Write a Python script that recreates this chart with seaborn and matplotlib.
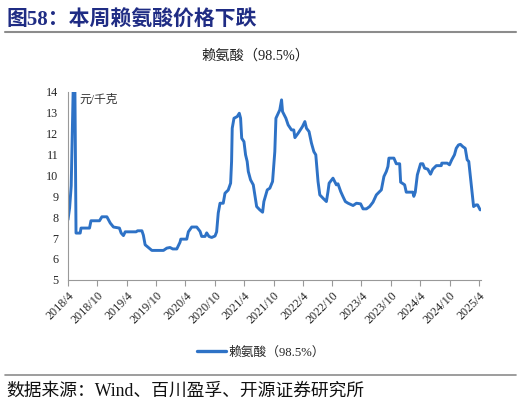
import numpy as np
import pandas as pd
import matplotlib
matplotlib.use("Agg")
import matplotlib.pyplot as plt
import matplotlib.dates as mdates
from matplotlib.lines import Line2D
import seaborn as sns

# 赖氨酸（98.5%）价格，元/千克
dates = [
    "2018-04-01", "2018-04-11", "2018-04-21", "2018-05-07", "2018-05-14", "2018-05-21",
    "2018-06-16", "2018-06-21", "2018-08-13", "2018-08-22", "2018-10-14", "2018-10-29",
    "2018-11-29", "2018-12-20", "2019-01-09", "2019-02-15", "2019-02-26", "2019-03-12",
    "2019-03-23", "2019-05-30", "2019-06-08", "2019-07-05", "2019-07-14", "2019-07-25",
    "2019-08-14", "2019-09-05", "2019-11-16", "2019-12-07", "2019-12-27", "2020-01-13",
    "2020-02-07", "2020-02-27", "2020-03-03", "2020-04-09", "2020-04-19", "2020-05-10",
    "2020-06-10", "2020-07-01", "2020-07-11", "2020-08-01", "2020-08-11", "2020-08-25",
    "2020-09-11", "2020-10-02", "2020-10-12", "2020-10-22", "2020-11-02", "2020-11-22",
    "2020-12-03", "2020-12-23", "2021-01-07", "2021-01-13", "2021-01-17", "2021-01-28",
    "2021-02-17", "2021-03-02", "2021-03-10", "2021-03-17", "2021-03-31", "2021-04-10",
    "2021-04-20", "2021-04-27", "2021-05-11", "2021-05-28", "2021-06-07", "2021-06-18",
    "2021-07-08", "2021-07-25", "2021-08-02", "2021-08-23", "2021-09-08", "2021-09-25",
    "2021-10-09", "2021-10-16", "2021-10-30", "2021-11-09", "2021-11-20", "2021-11-26",
    "2021-12-17", "2021-12-31", "2022-01-21", "2022-02-04", "2022-02-11", "2022-03-03",
    "2022-03-30", "2022-04-14", "2022-04-24", "2022-05-10", "2022-05-25", "2022-06-09",
    "2022-06-21", "2022-07-05", "2022-07-16", "2022-08-05", "2022-08-26", "2022-09-05",
    "2022-09-12", "2022-10-06", "2022-10-27", "2022-11-06", "2022-11-23", "2022-12-07",
    "2022-12-22", "2023-01-08", "2023-02-08", "2023-03-01", "2023-03-27", "2023-04-11",
    "2023-05-02", "2023-05-22", "2023-06-12", "2023-07-03", "2023-08-03", "2023-08-19",
    "2023-09-03", "2023-09-13", "2023-09-19", "2023-10-20", "2023-11-04", "2023-11-25",
    "2023-12-01", "2023-12-26", "2024-01-05", "2024-02-15", "2024-02-21", "2024-03-01",
    "2024-03-14", "2024-04-03", "2024-04-17", "2024-04-28", "2024-05-18", "2024-06-04",
    "2024-06-18", "2024-07-10", "2024-08-10", "2024-08-13", "2024-09-16", "2024-09-30",
    "2024-10-14", "2024-10-31", "2024-11-11", "2024-11-25", "2024-12-07", "2024-12-22",
    "2025-01-06", "2025-01-18", "2025-01-28", "2025-02-08", "2025-02-16", "2025-02-27",
    "2025-03-14", "2025-03-24", "2025-04-09",
]
prices = [
    7.88, 8.44, 9.5, 15.5, 14.2, 7.24,
    7.24, 7.48, 7.48, 7.83, 7.83, 8.02,
    8.02, 7.72, 7.53, 7.48, 7.24, 7.12,
    7.3, 7.3, 7.35, 7.35, 7.14, 6.68,
    6.55, 6.41, 6.41, 6.52, 6.55, 6.48,
    6.48, 6.8, 6.95, 6.95, 7.3, 7.53,
    7.53, 7.32, 7.08, 7.08, 7.25, 7.08,
    7.03, 7.1, 7.3, 8.2, 8.67, 8.67,
    9.15, 9.3, 9.63, 10.67, 12.26, 12.74,
    12.82, 12.98, 12.74, 11.78, 11.62, 10.99,
    10.67, 10.19, 9.79, 9.55, 9.07, 8.51,
    8.35, 8.24, 8.75, 9.31, 9.39, 9.71,
    11.14, 12.74, 12.98, 13.14, 13.62, 13.06,
    12.74, 12.42, 12.18, 12.18, 11.81, 12.02,
    12.34, 12.58, 12.26, 12.1, 11.55, 11.14,
    10.99, 9.71, 9.07, 8.91, 8.75, 9.23,
    9.63, 9.87, 9.55, 9.6, 9.23, 8.99,
    8.75, 8.67, 8.56, 8.67, 8.64, 8.4,
    8.4, 8.51, 8.72, 9.07, 9.31, 9.95,
    10.19, 10.43, 10.83, 10.83, 10.56, 10.56,
    9.68, 9.55, 9.2, 9.2, 9.0, 9.2,
    10.03, 10.56, 10.56, 10.35, 10.3, 10.06,
    10.3, 10.47, 10.47, 10.59, 10.59, 10.51,
    10.75, 10.99, 11.3, 11.46, 11.49, 11.38,
    11.3, 10.75, 10.67, 9.87, 9.31, 8.51,
    8.59, 8.59, 8.35,
]
tick_dates = ["2018-04-01", "2018-10-01", "2019-04-01", "2019-10-01", "2020-04-01",
              "2020-10-01", "2021-04-01", "2021-10-01", "2022-04-01", "2022-10-01",
              "2023-04-01", "2023-10-01", "2024-04-01", "2024-10-01", "2025-04-01"]
tick_labels = ["2018/4", "2018/10", "2019/4", "2019/10", "2020/4", "2020/10", "2021/4",
               "2021/10", "2022/4", "2022/10", "2023/4", "2023/10", "2024/4", "2024/10",
               "2025/4"]
series_name = "赖氨酸（98.5%）"

sns.set_style("white")
plt.rcParams["font.family"] = ["Liberation Serif", "Noto Sans CJK SC", "DejaVu Sans"]

df = pd.DataFrame({"date": pd.to_datetime(dates), "price": prices, "series": series_name})

fig = plt.figure(figsize=(5.21, 4.05), dpi=100)
ax = fig.add_axes([0.1305, 0.309, 0.793, 0.464])

sns.lineplot(data=df, x="date", y="price", hue="series", palette=["#2E72C6"],
             linewidth=2.1, ax=ax)

ax.set_ylim(5, 14)
ax.set_yticks(range(5, 15))
ax.set_xlim(pd.Timestamp("2018-04-01"), pd.Timestamp("2025-04-15"))
ticks = pd.to_datetime(tick_dates)
ax.set_xticks(ticks)
ax.set_xticklabels(tick_labels, rotation=45, ha="right", rotation_mode="anchor")
ax.tick_params(axis="x", direction="out", length=4, width=0.8, color="#999999",
               labelsize=8.7, pad=3, bottom=True)
ax.tick_params(axis="y", direction="out", length=0, labelsize=8.7, pad=7, left=True)
ax.set_xlabel("")
ax.set_ylabel("")
for s in ["top", "right"]:
    ax.spines[s].set_visible(False)
for s in ["left", "bottom"]:
    ax.spines[s].set_color("#999999")
    ax.spines[s].set_linewidth(0.8)

ax.text(0.027, 0.99, "元/千克", transform=ax.transAxes, fontsize=8.5, va="top",
        ha="left", color="#333333")

ax.legend_.remove()
handles = [Line2D([0], [0], color="#2E72C6", lw=2.4)]
fig.legend(handles, [series_name], loc="center", bbox_to_anchor=(0.5, 0.13),
           frameon=False, fontsize=9.2, handlelength=2.3, handletextpad=0.15)

fig.text(0.49, 0.862, series_name, ha="center", va="center", fontsize=10.3, color="#222222")

fig.text(0.012, 0.948, "图58：本周赖氨酸价格下跌", ha="left", va="center",
         fontsize=15, fontweight="bold", color="#1F2C84")
fig.add_artist(Line2D([0.01, 0.99], [0.922, 0.922], color="#8C8C8C", lw=1.5))
fig.add_artist(Line2D([0.01, 0.99], [0.074, 0.074], color="#8C8C8C", lw=1.2))
fig.text(0.012, 0.033, "数据来源：Wind、百川盈孚、开源证券研究所", ha="left", va="center",
         fontsize=12.8, color="#111111")

plt.savefig("out.png", dpi=100)
plt.close()
